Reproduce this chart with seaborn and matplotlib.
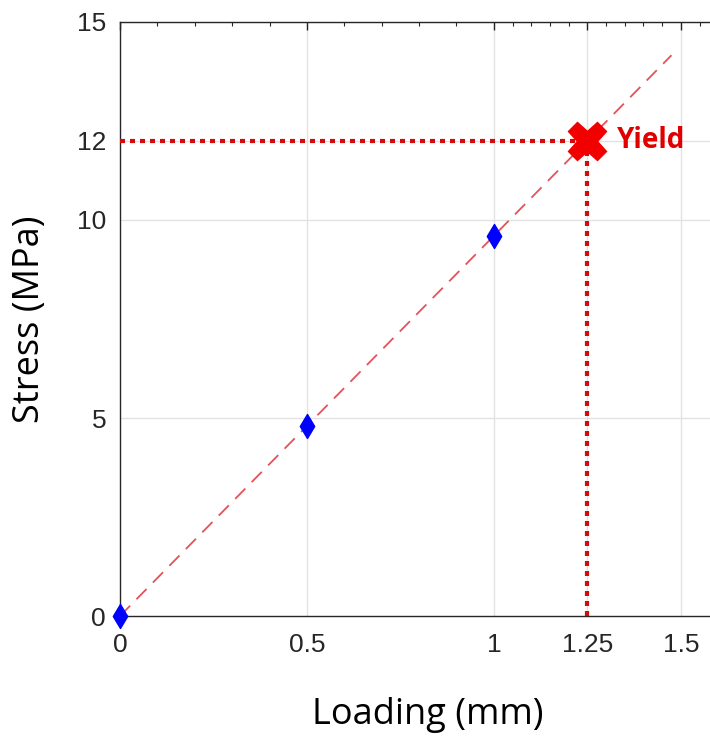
import numpy as np
import matplotlib
matplotlib.use("Agg")
import matplotlib.pyplot as plt
import seaborn as sns
from matplotlib.ticker import FixedLocator

# Measured points (loading in mm, stress in MPa)
loading = [0.0, 0.5, 1.0]
stress = [0.0, 4.8, 9.6]

# Linear fit line end points
fit_x = [0.0, 1.475]
fit_y = [0.0, 14.16]

# Yield point
yield_x = 1.25
yield_y = 12.0

x_ticks = [0, 0.5, 1, 1.25, 1.5]
x_tick_labels = ["0", "0.5", "1", "1.25", "1.5"]
y_ticks = [0, 5, 10, 12, 15]
y_tick_labels = ["0", "5", "10", "12", "15"]

sns.set_style("white")
plt.rcParams['font.family'] = ['Liberation Sans', 'DejaVu Sans']

fig = plt.figure(figsize=(7.1, 7.38), dpi=100)
ax = fig.add_axes([0.169, 0.1653, 0.831, 0.8049])

# grid first so everything sits on top
for xv in x_ticks[1:]:
    ax.axvline(xv, color='#e2e2e2', lw=1.0, zorder=0)
for yv in y_ticks[1:]:
    ax.axhline(yv, color='#e2e2e2', lw=1.0, zorder=0)

# dashed fit line
sns.lineplot(x=fit_x, y=fit_y, ax=ax, color='#e4525a', lw=1.3,
             dashes=False, zorder=2)
ax.lines[-1].set_dashes((8, 5))

# dotted guides to the yield point
ax.plot([0, yield_x], [yield_y, yield_y], color='#d40b0b', lw=3.0,
        dashes=(1.2, 1.2), dash_capstyle='butt', zorder=3)
ax.plot([yield_x, yield_x], [0, yield_y], color='#d40b0b', lw=3.0,
        dashes=(1.2, 1.2), dash_capstyle='butt', zorder=3)

# measured points
sns.scatterplot(x=loading, y=stress, ax=ax, marker='d', s=150,
                color='#0000ff', edgecolor='#0000ff', zorder=4, clip_on=False)

# yield marker
ax.plot([yield_x], [yield_y], marker='X', markersize=28, color='#f20000',
        markeredgecolor='#f20000', zorder=5)
ax.text(yield_x + 0.08, yield_y, "Yield", color='#e00000', fontsize=20,
        fontweight='bold', family=['Open Sans', 'DejaVu Sans'],
        va='center', ha='left', zorder=5)

ax.set_xlim(0, 1.578)
ax.set_ylim(0, 15)

ax.set_xticks(x_ticks)
ax.set_xticklabels(x_tick_labels)
ax.set_yticks(y_ticks)
ax.set_yticklabels(y_tick_labels)
ax.xaxis.set_minor_locator(FixedLocator(list(np.arange(0.1, 1.0, 0.1)) + [1.05, 1.1, 1.15, 1.2, 1.3, 1.35, 1.4, 1.45, 1.55]))
ax.yaxis.set_minor_locator(FixedLocator(list(range(1, 10)) + [10.5, 11, 11.5, 12.5, 13, 13.5, 14, 14.5]))

ax.tick_params(axis='both', which='both', direction='in', top=True, right=False,
               colors='#262626', labelcolor='#262626')
ax.tick_params(axis='both', which='major', length=6, width=1, labelsize=19)
ax.tick_params(axis='both', which='minor', length=3, width=0.8)
ax.tick_params(axis='x', which='major', pad=12)
ax.tick_params(axis='y', which='major', pad=10)

for side in ['left', 'bottom', 'top']:
    ax.spines[side].set_color('#262626')
    ax.spines[side].set_linewidth(1.0)
ax.spines['right'].set_visible(False)

ax.set_xlabel("Loading (mm)", fontsize=26, family=['Open Sans', 'DejaVu Sans'], color='black')
ax.set_ylabel("Stress (MPa)", fontsize=26, family=['Open Sans', 'DejaVu Sans'], color='black')
ax.xaxis.set_label_coords(0.522, -0.137)
ax.yaxis.set_label_coords(-0.122, 0.5)

fig.savefig("out.png", dpi=100)
